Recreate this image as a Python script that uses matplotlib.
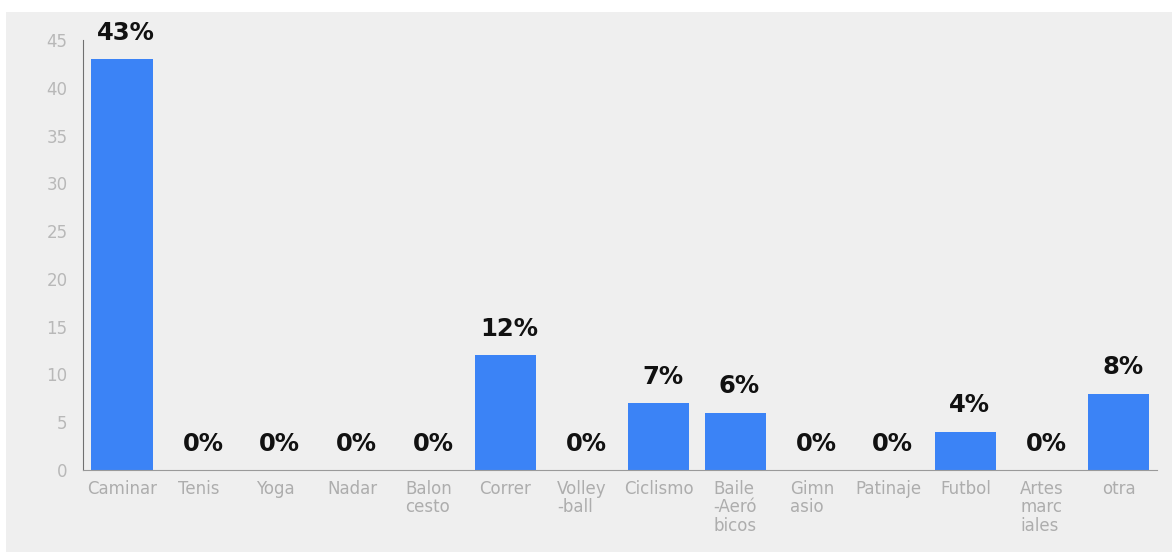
import matplotlib.pyplot as plt
from matplotlib.patches import Rectangle

# Actividad fisica preferida (% de respuestas)
actividades = ['Caminar', 'Tenis', 'Yoga', 'Nadar', 'Balon\ncesto', 'Correr',
               'Volley\n-ball', 'Ciclismo', 'Baile\n-Aeró\nbicos', 'Gimn\nasio',
               'Patinaje', 'Futbol', 'Artes\nmarc\niales', 'otra']
porcentajes = [43, 0, 0, 0, 0, 12, 0, 7, 6, 0, 0, 4, 0, 8]
yticks = [0, 5, 10, 15, 20, 25, 30, 35, 40, 45]

panel = '#efefef'
fig = plt.figure(figsize=(11.72, 5.52), dpi=100, facecolor='white')
# grey card behind the chart
fig.patches.append(Rectangle((6 / 1172, 0), 1, 1 - 12 / 552,
                             transform=fig.transFigure, facecolor=panel,
                             edgecolor='none', zorder=-5))

ax = fig.add_axes([83 / 1172, 82 / 552, (1157 - 83) / 1172, (470 - 40) / 552])
ax.set_facecolor(panel)

x = range(len(actividades))
bars = ax.bar(x, porcentajes, width=0.8, color='#3b83f6', zorder=2)

for b, v in zip(bars, porcentajes):
    ax.annotate('{0}%'.format(v), (b.get_x() + b.get_width() / 2, v),
                xytext=(3, 14), textcoords='offset points', ha='center',
                va='baseline', fontsize=17.5, fontweight='bold',
                family='DejaVu Sans', color='#111111')

ax.set_xlim(-0.51, 13.5)
ax.set_ylim(0, 45)
ax.set_yticks(yticks)
ax.set_xticks(list(x))
ax.set_xticklabels(actividades, multialignment='left', va='top',
                   linespacing=1.05)

for s in ['top', 'right']:
    ax.spines[s].set_visible(False)
ax.spines['left'].set_color('#707070')
ax.spines['bottom'].set_color('#9a9a9a')

ax.tick_params(axis='y', length=0, pad=11, labelsize=12, labelcolor='#b8b8b8')
ax.tick_params(axis='x', length=0, pad=7, labelsize=12, labelcolor='#adadad')

fig.savefig('out.png', dpi=100, facecolor='white')
